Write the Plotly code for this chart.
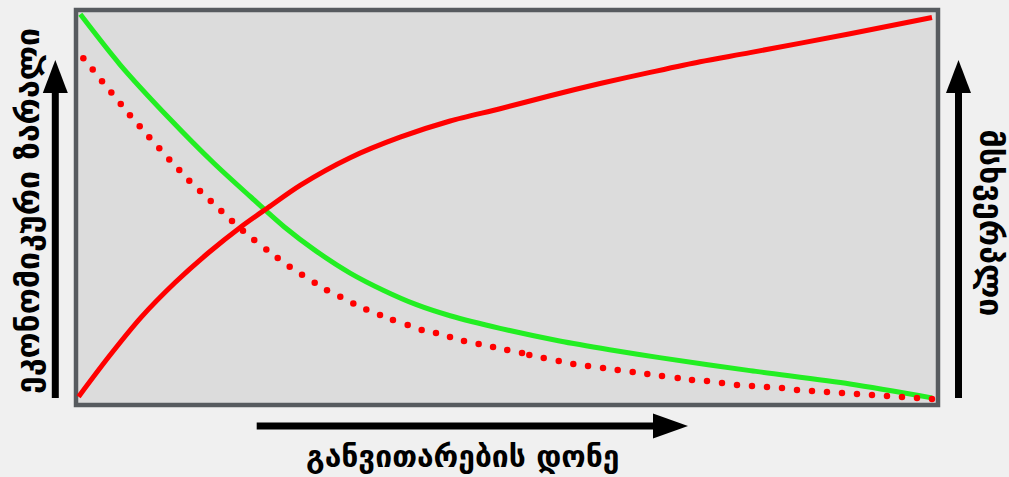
import plotly.graph_objects as go

# development level (0-100) vs relative value (0-100)
green_x = [0.5, 5.1, 10.9, 16.0, 20.2, 24.1, 27.9, 31.8, 35.7, 39.5, 43.4, 49.2, 56.1,
           61.9, 67.7, 78.2, 89.8, 99.3]
green_y = [98.9, 86.2, 72.4, 61.2, 52.8, 45.2, 38.9, 33.4, 29.0, 25.4, 22.6, 19.4, 16.2,
           14.0, 12.0, 8.7, 5.3, 1.8]

red_x = [0.3, 3.8, 7.6, 11.5, 15.4, 19.2, 22.3, 26.0, 31.8, 37.6, 43.4, 49.2, 55.0,
         60.8, 66.6, 72.4, 78.2, 89.8, 99.3]
red_y = [2.1, 12.2, 22.3, 31.0, 38.6, 45.2, 50.0, 55.6, 62.6, 67.8, 71.9, 75.0, 78.3,
         81.4, 84.2, 86.9, 89.2, 94.0, 98.1]

dots_x = [-0.38, 0.85, 1.94, 3.02, 4.10, 5.19, 6.26, 7.39, 8.50, 9.66, 10.82, 11.98,
          13.14, 14.39, 15.63, 16.86, 18.10, 19.37, 20.68, 22.08, 23.40, 24.79, 26.22,
          27.69, 29.12, 30.66, 32.17, 33.68, 35.27, 36.77, 38.48, 40.10, 41.76, 43.39,
          45.01, 46.71, 48.38, 50.03, 51.74, 52.59, 54.26, 56.00, 57.69, 59.40, 61.14,
          62.84, 64.58, 66.28, 67.98, 69.80, 71.46, 73.20, 74.94, 76.68, 78.42, 80.16,
          81.90, 83.64, 85.38, 87.12, 88.86, 90.60, 92.34, 94.08, 95.82, 97.56, 99.30]
dots_y = [91.76, 87.78, 84.92, 81.95, 79.09, 76.22, 73.33, 70.55, 67.76, 64.97, 62.18,
          59.49, 56.78, 54.17, 51.63, 49.10, 46.57, 44.11, 41.75, 39.37, 37.19, 34.98,
          32.95, 30.93, 29.07, 27.38, 25.68, 24.16, 22.81, 21.55, 20.28, 19.01, 18.25,
          17.24, 16.22, 15.46, 14.70, 13.94, 13.18, 12.67, 11.91, 11.15, 10.39, 9.89,
          9.38, 8.87, 8.37, 7.86, 7.35, 6.84, 6.34, 6.08, 5.58, 5.07, 4.82, 4.56, 4.31,
          3.80, 3.55, 3.30, 3.04, 2.79, 2.53, 2.28, 2.03, 1.77, 1.52]

x_label = "განვითარების დონე"
left_label = "ეკონომიკური ზარალი"
right_label = "მსხვერპლი"

W, H = 1009, 477
L, R, T, B = 76, 71, 10, 72
PW, PH = W - L - R, H - T - B


def px(x):
    # window pixel -> paper x
    return (x - L) / PW


def py(y):
    # window pixel -> paper y
    return (H - B - y) / PH


fig = go.Figure()
fig.add_trace(go.Scatter(x=green_x, y=green_y, mode="lines",
                         line=dict(color="#22ee22", width=5, shape="spline", smoothing=0.8)))
fig.add_trace(go.Scatter(x=red_x, y=red_y, mode="lines",
                         line=dict(color="#ff0000", width=5, shape="spline", smoothing=0.8)))
fig.add_trace(go.Scatter(x=dots_x, y=dots_y, mode="markers", cliponaxis=False,
                         marker=dict(color="#ff0000", size=6.5, line_width=0)))

shapes = [dict(type="rect", xref="paper", yref="paper", x0=0, x1=1, y0=0, y1=1,
               line=dict(color="#575b5f", width=4.5), layer="below")]


def up_arrow(cx):
    return [
        dict(type="rect", xref="paper", yref="paper", x0=px(cx - 3.5), x1=px(cx + 3.5),
             y0=py(398), y1=py(92), fillcolor="black", line_width=0),
        dict(type="path", xref="paper", yref="paper",
             path=f"M{px(cx - 12.5)},{py(93)} L{px(cx + 12.5)},{py(93)} L{px(cx)},{py(60)} Z",
             fillcolor="black", line_width=0),
    ]


shapes += up_arrow(55.3) + up_arrow(958.5)
shapes += [
    dict(type="rect", xref="paper", yref="paper", x0=px(256.7), x1=px(654),
         y0=py(422.5), y1=py(429.5), fillcolor="black", line_width=0),
    dict(type="path", xref="paper", yref="paper",
         path=f"M{px(653)},{py(413.5)} L{px(653)},{py(438.5)} L{px(688)},{py(426)} Z",
         fillcolor="black", line_width=0),
]


def label_font(size):
    return dict(family="DejaVu Sans", size=size, color="black", weight="bold")


annotations = [
    dict(text=f"<b>{x_label}</b>", x=px(462), y=py(456), xref="paper", yref="paper",
         showarrow=False, xanchor="center", yanchor="middle", font=label_font(30)),
    dict(text=f"<b>{left_label}</b>", x=px(27.5), y=py(211.5), xref="paper", yref="paper",
         showarrow=False, xanchor="center", yanchor="middle", textangle=-90, font=label_font(32)),
    dict(text=f"<b>{right_label}</b>", x=px(991), y=py(223.5), xref="paper", yref="paper",
         showarrow=False, xanchor="center", yanchor="middle", textangle=90, font=label_font(32)),
]

fig.update_layout(
    width=W, height=H,
    margin=dict(l=L, r=R, t=T, b=B, pad=0),
    paper_bgcolor="#f0f0f0",
    plot_bgcolor="#dcdcdc",
    showlegend=False,
    shapes=shapes,
    annotations=annotations,
    xaxis=dict(range=[0, 100], visible=False, fixedrange=True),
    yaxis=dict(range=[0, 100], visible=False, fixedrange=True),
)

# drop the browser's default body margin so the figure fills the window
fig.write_html("out.html", config={"displayModeBar": False},
               post_script="document.body.style.margin='0';document.body.style.background='#f0f0f0';")
